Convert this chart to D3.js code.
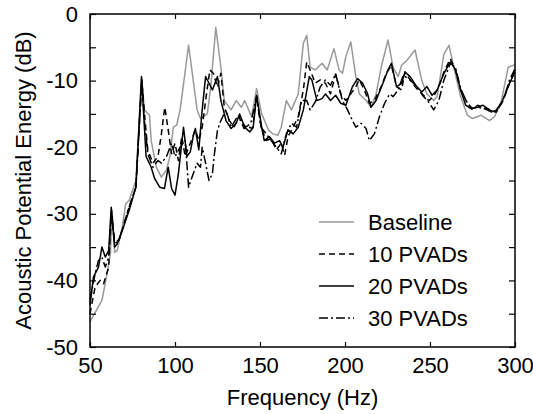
<!DOCTYPE html>
<html>
<head>
<meta charset="utf-8">
<script src="https://cdn.jsdelivr.net/npm/d3@7"></script>
<style>
  body { margin: 0; background: #fff; }
  svg { font-family: "Liberation Sans", Arial, sans-serif; }
</style>
</head>
<body>
<div id="chart"></div>
<script>
// values: [frequency (Hz), energy (dB)]
var baseline = [[50,-46.2],[57,-43],[59.6,-39.6],[62,-36],[63,-29.5],[64.5,-35.8],[66,-35.5],[69,-32],[71,-28.5],[73,-28],[77,-25],[80.3,-9.7],[82,-14.4],[85,-15.2],[86,-19],[89,-23],[92,-24.5],[95,-23.4],[97,-21.4],[99,-17],[101,-16.7],[103,-14.4],[108,-4.7],[113,-14.4],[115,-15.7],[119,-15],[121,-11],[124,-2],[127,-8],[129,-13],[133,-14.4],[136,-13],[139,-14],[141,-13],[145,-15.4],[148,-11.2],[151,-15],[155,-17.4],[157.5,-18],[160.5,-18.2],[162.5,-17],[165.5,-13],[168.5,-14.4],[172.5,-12],[175.5,-4.4],[177.5,-3.2],[179.5,-8],[182.5,-8.4],[186.5,-7.4],[189.5,-8.4],[193.5,-5.2],[196.5,-8.4],[198.5,-8.9],[200.5,-6.4],[203.4,-4.2],[206.4,-9.4],[208.4,-12],[212.4,-13],[215.3,-14],[218.3,-12],[221.3,-8],[225.3,-3.9],[228.3,-8],[231.3,-9.4],[233.3,-7.7],[236.3,-7],[241.2,-5.4],[245.2,-10],[248.2,-12],[252.2,-13],[254.2,-12.4],[258.2,-6],[261.2,-4.7],[264,-8],[268,-12.4],[272,-15.2],[275,-15.7],[280,-15.2],[285,-16],[288,-15.4],[292,-13],[296,-8],[300,-7.6]];

var pvad10 = [[50,-45],[53,-41],[56,-40],[58,-40.5],[61,-38],[62.5,-30],[64.5,-34],[67,-34],[73,-29],[77,-26],[80.5,-9.9],[82,-14.9],[84,-20.4],[87,-22.4],[90,-21.4],[92,-18],[94,-14],[96,-17.4],[98,-21],[100,-19.4],[102,-22],[104,-18.4],[106,-21.4],[109,-19.4],[112,-17.4],[114,-19],[116,-17],[118,-13],[120.5,-8.4],[122.5,-8.9],[125,-11],[127,-8.9],[129,-14],[132,-16],[134.7,-17],[137.6,-15.4],[140.6,-17.2],[143.6,-17],[145.6,-17.2],[148,-12.4],[150.6,-17],[153.6,-19],[156.6,-18.7],[159.6,-20.4],[162.5,-19.4],[164.5,-21.2],[166.5,-18.4],[169.5,-17],[172.5,-15.4],[175.5,-11.4],[177.5,-7.2],[179.5,-8.4],[182.5,-10.4],[185.5,-9.9],[188.5,-10.4],[191.5,-12],[194.5,-9],[197.5,-12],[200.5,-13],[203.4,-12],[206.4,-10.9],[208.4,-9.9],[211.4,-11.4],[214.3,-13.4],[217.3,-13],[221.3,-10.9],[224.3,-8.9],[227.3,-7.7],[230.3,-10.9],[233.3,-11.4],[235.3,-8.7],[238.3,-9.9],[242.2,-11.2],[246.2,-12.2],[249.2,-13],[252.2,-12.4],[255.2,-10.9],[258.2,-8.7],[262,-6.7],[265,-8.4],[268,-11.4],[272,-13.4],[275,-14.4],[278,-13.7],[282,-14.2],[286,-14.4],[289,-14.7],[293,-13],[296.8,-10.4],[300,-8.5]];

var pvad20 = [[50,-43.7],[52,-39.5],[55,-38],[57,-35],[59,-36.5],[61,-35.5],[62.5,-29],[64.5,-35],[66,-34.5],[69,-32.5],[73,-29.5],[77,-26],[80.3,-9.4],[82,-17],[83,-21.4],[86,-23],[88,-24.7],[91,-26],[93.8,-26.2],[96,-23],[98,-26.2],[100,-27.2],[102,-24],[105,-17],[107,-21.4],[109,-20.7],[111,-18],[112,-17.2],[114,-20.4],[116,-14.4],[118,-9.4],[120,-10.4],[122,-11.4],[125,-9.4],[127,-13],[130,-16],[133,-17.2],[136,-16.4],[138,-15],[141,-17],[144,-17.7],[146,-17],[148,-12.2],[151,-17],[152.5,-19],[155.5,-18.4],[158.5,-19.4],[161.5,-19],[163.5,-20],[166.5,-17.4],[169.5,-18],[172.5,-17],[175.5,-14.4],[179,-9.4],[180.5,-9.9],[183.5,-13],[186.5,-12.7],[188.5,-12],[191.5,-13],[194.5,-12.2],[197.5,-13.4],[200.5,-13.7],[204.4,-10.9],[207.4,-9.7],[210.4,-10.4],[213.3,-12],[215.3,-14],[218.3,-13],[222.3,-10.4],[225.3,-8.4],[227.3,-7.4],[230.3,-10.9],[233.3,-10.4],[235.3,-8.7],[238.3,-9.4],[242.2,-10.9],[245.2,-11.7],[248.2,-10.9],[251.2,-12.2],[254.2,-11.4],[258.2,-8.9],[262,-7.2],[265,-8.4],[268,-11.4],[271,-13.7],[274,-14.2],[278,-14],[281,-13.7],[285,-14.4],[288,-14.7],[292,-13.4],[296.8,-10.4],[300,-8.7]];

var pvad30 = [[50,-43],[53,-39],[55,-37],[57,-36.5],[59,-38],[61,-36.5],[62.5,-29.5],[64.5,-34.5],[67,-34],[73,-29],[77,-26],[80.5,-9.9],[82,-16],[84,-21],[87,-23],[90,-22],[92,-22.4],[95,-21.4],[98,-19.4],[100,-21.4],[103,-20],[106,-19],[108,-26],[110,-24.5],[113,-22.4],[115,-23],[116,-20],[118,-22.4],[120,-25],[122,-24],[123,-21.4],[125,-17.4],[127,-16],[130,-14.4],[133,-17],[136,-15.7],[139,-16],[141.6,-17],[144.6,-16.4],[148,-12.4],[150.6,-17],[153.6,-18],[156.6,-19],[159.6,-20],[162.5,-21],[165.5,-18],[168.5,-16.4],[171.5,-17],[174.5,-13],[177.5,-13],[179.5,-14.4],[182.5,-13.2],[185.5,-10.9],[188.5,-9.9],[191.5,-10.7],[194.5,-9],[196.5,-11],[198.5,-13],[201.5,-14.4],[204.4,-16],[206.4,-17],[209.4,-16.4],[212.4,-17.2],[214.3,-19],[217.3,-18],[220.3,-15.4],[223.3,-13.4],[226.3,-12],[228.3,-12.4],[231.3,-11.4],[234.3,-9.2],[238.3,-9.9],[242.2,-10.9],[246.2,-12.4],[249.2,-13.2],[252.2,-14.4],[255.2,-13],[258.2,-9.9],[262,-7.4],[265,-8],[268,-11.2],[272,-13.4],[275,-14.2],[278,-14],[282,-14.2],[286,-14.7],[289,-14.7],[293,-13],[296.8,-9.9],[300,-8.2]];

var seriesNames = ["Baseline", "10 PVADs", "20 PVADs", "30 PVADs"];
var seriesData = [baseline, pvad10, pvad20, pvad30];
var xTicks = [50, 100, 150, 200, 250, 300];
var yTicks = [0, -10, -20, -30, -40, -50];

var width = 533, height = 414;
var margin = { top: 14, right: 18, bottom: 67, left: 90 };
var innerW = width - margin.left - margin.right,
    innerH = height - margin.top - margin.bottom;
var fontSize = "22px";

var styles = [
    { color: "#999", dash: null },
    { color: "#000", dash: "6,4" },
    { color: "#000", dash: null },
    { color: "#000", dash: "9,3,2,3" }
];

var svg = d3.select("#chart").append("svg")
    .attr("width", width).attr("height", height);

var x = d3.scaleLinear().domain([50, 300]).range([0, innerW]);
var y = d3.scaleLinear().domain([-50, 0]).range([innerH, 0]);

var g = svg.append("g").attr("transform", "translate(" + margin.left + "," + margin.top + ")");

var line = d3.line()
    .x(function(d) { return x(d[0]); })
    .y(function(d) { return y(d[1]); });

// baseline first so the black series sit on top
seriesData.forEach(function(data, i) {
    g.append("path")
        .datum(data)
        .attr("fill", "none")
        .attr("stroke", styles[i].color)
        .attr("stroke-width", 1.5)
        .attr("stroke-dasharray", styles[i].dash)
        .attr("stroke-linejoin", "round")
        .attr("d", line);
});

// axes: ticks point inward on all four sides
function styleAxis(sel) {
    sel.select(".domain").remove();
    sel.selectAll(".tick line").attr("stroke", "#000").attr("stroke-width", 1.2);
    sel.selectAll("text").attr("fill", "#000").style("font-size", fontSize);
}

var yMinor = d3.range(-50, 1, 5);

g.append("g")
    .call(d3.axisLeft(y).tickValues(yMinor).tickSize(-6).tickPadding(12)
        .tickFormat(function(d) { return yTicks.indexOf(d) >= 0 ? d : ""; }))
    .call(styleAxis);

g.append("g").attr("transform", "translate(" + innerW + ",0)")
    .call(d3.axisRight(y).tickValues(yMinor).tickSize(-6).tickFormat(""))
    .call(styleAxis);

g.append("g").attr("transform", "translate(0," + innerH + ")")
    .call(d3.axisBottom(x).tickValues(xTicks).tickSize(-5).tickPadding(10))
    .call(styleAxis);

g.append("g")
    .call(d3.axisTop(x).tickValues(xTicks).tickSize(-5).tickFormat(""))
    .call(styleAxis);

g.append("rect")
    .attr("width", innerW).attr("height", innerH)
    .attr("fill", "none").attr("stroke", "#000").attr("stroke-width", 1.5);

svg.append("text")
    .attr("x", margin.left + innerW / 2).attr("y", 405)
    .attr("text-anchor", "middle").style("font-size", fontSize)
    .text("Frequency (Hz)");

svg.append("text")
    .attr("transform", "translate(31," + (margin.top + innerH / 2) + ") rotate(-90)")
    .attr("text-anchor", "middle").style("font-size", fontSize)
    .text("Acoustic Potential Energy (dB)");

// legend
var legend = svg.append("g").attr("transform", "translate(319,222)");
seriesNames.forEach(function(name, i) {
    var row = legend.append("g").attr("transform", "translate(0," + (i * 32) + ")");
    row.append("line")
        .attr("x1", 0).attr("x2", 35).attr("y1", 0).attr("y2", 0)
        .attr("stroke", styles[i].color).attr("stroke-width", 1.5)
        .attr("stroke-dasharray", styles[i].dash);
    row.append("text")
        .attr("x", 49).attr("y", 8)
        .style("font-size", fontSize)
        .text(name);
});
</script>
</body>
</html>
